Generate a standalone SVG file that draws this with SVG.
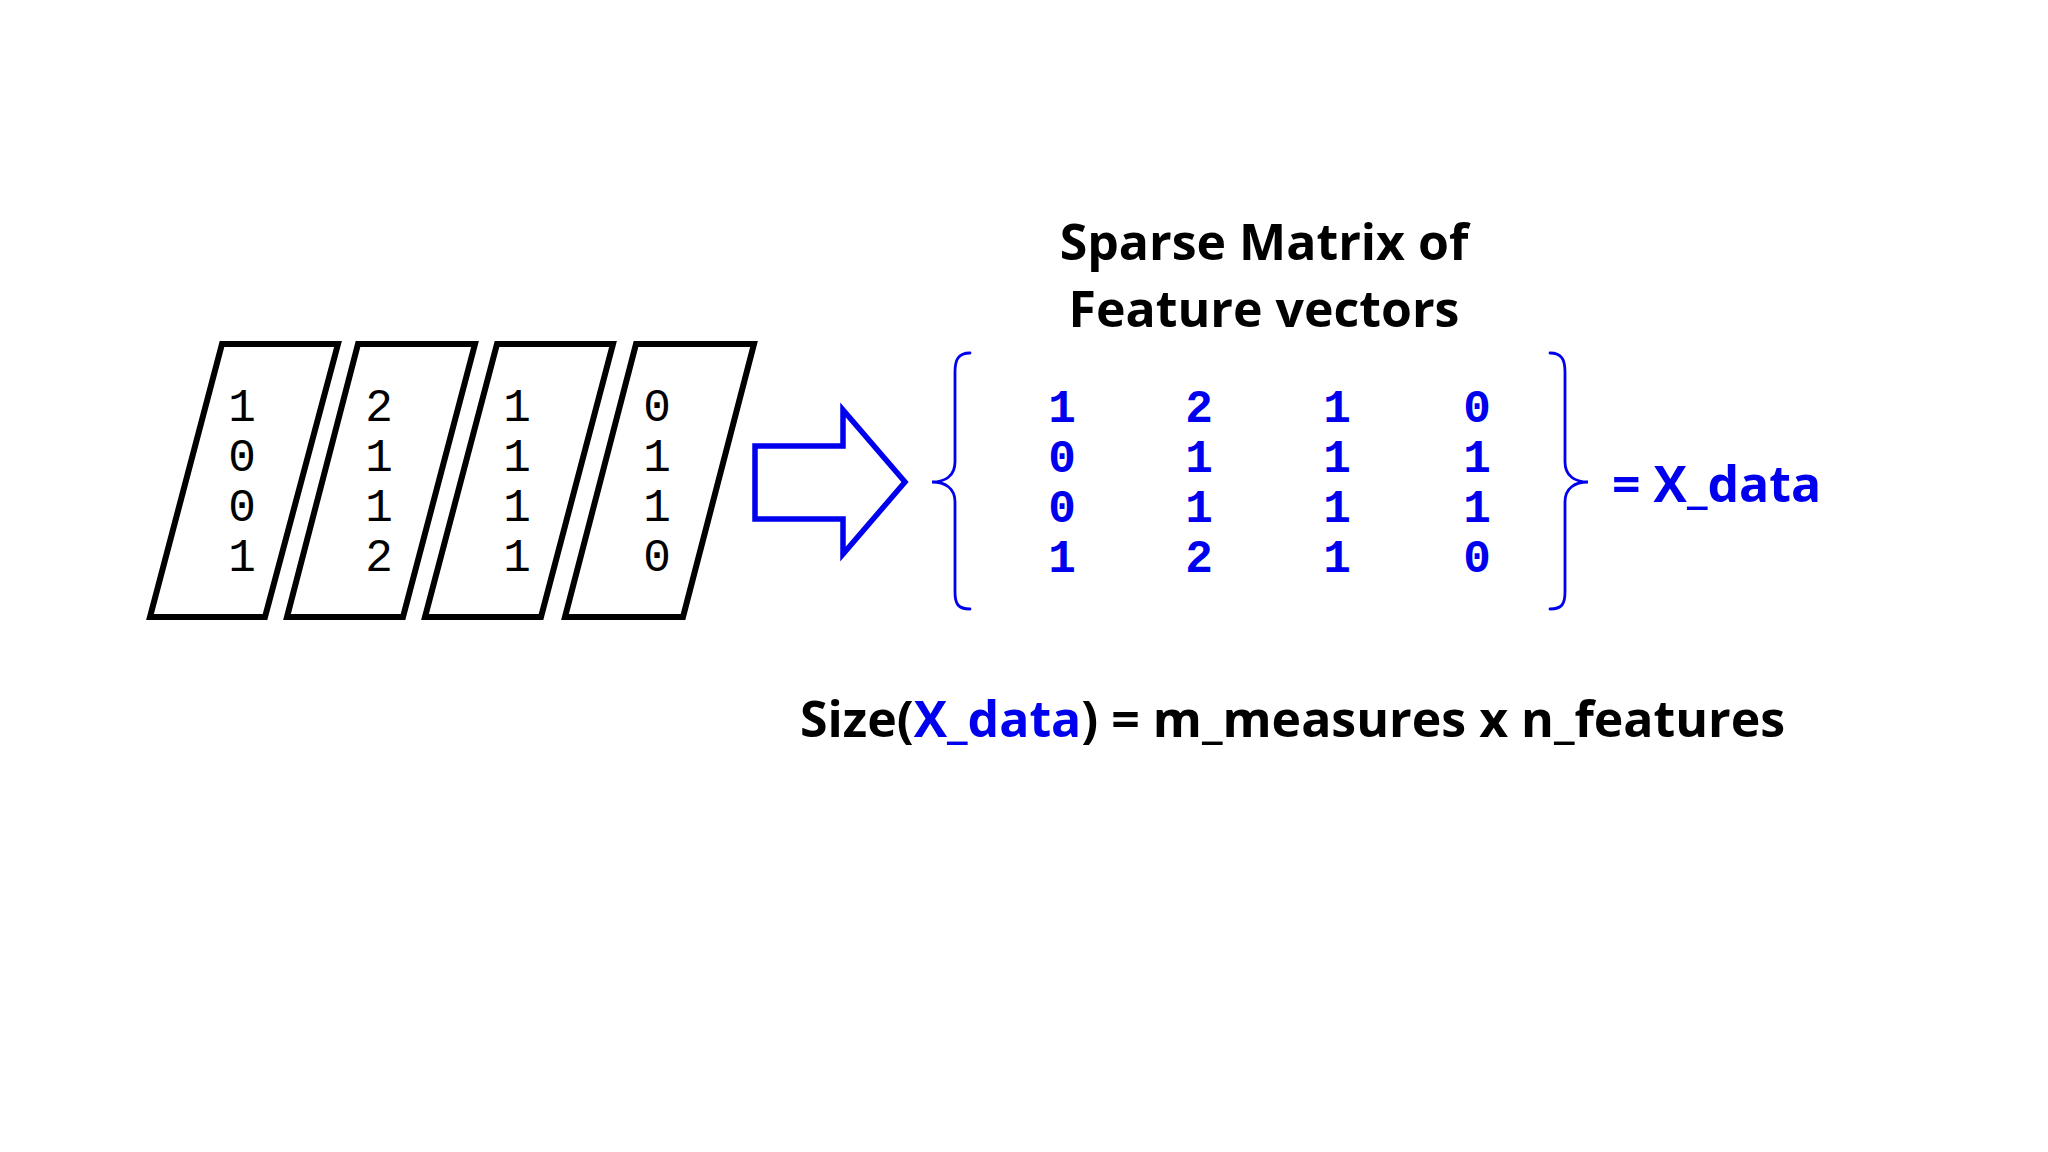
<svg xmlns="http://www.w3.org/2000/svg" width="2048" height="1152" viewBox="0 0 2048 1152">
<style>
.card{fill:#fff;stroke:#000;stroke-width:6;stroke-linejoin:miter}
.dig{font-family:"Liberation Mono",monospace;font-size:46px;fill:#000;text-anchor:middle}
.mdig{font-family:"Liberation Mono",monospace;font-weight:bold;font-size:46px;fill:#0000ee;text-anchor:middle}
.brace{fill:none;stroke:#0000ee;stroke-width:2.8;stroke-linecap:round}
.title{font-family:"Open Sans",sans-serif;font-weight:bold;font-size:50px;fill:#000;text-anchor:middle}
.blue{fill:#0000ee}
</style>
<rect width="2048" height="1152" fill="#fff"/>
<g id="vec1">
<polygon class="card" points="222,344 338,344 265,617 150,617"/>
<text class="dig"><tspan x="242" y="421">1</tspan><tspan x="242" y="471">0</tspan><tspan x="242" y="521">0</tspan><tspan x="242" y="571">1</tspan></text>
</g>
<g id="vec2">
<polygon class="card" points="358,344 475,344 403,617 287,617"/>
<text class="dig"><tspan x="379" y="421">2</tspan><tspan x="379" y="471">1</tspan><tspan x="379" y="521">1</tspan><tspan x="379" y="571">2</tspan></text>
</g>
<g id="vec3">
<polygon class="card" points="497,344 613,344 541,617 425,617"/>
<text class="dig"><tspan x="517" y="421">1</tspan><tspan x="517" y="471">1</tspan><tspan x="517" y="521">1</tspan><tspan x="517" y="571">1</tspan></text>
</g>
<g id="vec4">
<polygon class="card" points="636,344 754,344 683,617 565,617"/>
<text class="dig"><tspan x="657" y="421">0</tspan><tspan x="657" y="471">1</tspan><tspan x="657" y="521">1</tspan><tspan x="657" y="571">0</tspan></text>
</g>
<g id="connectors">
<path d="M755,446 H843 V410 L905,482 L843,554 V519 H755 Z" fill="#fff" stroke="#0000ee" stroke-width="5.5" stroke-linejoin="miter"/>
</g>
<g id="title">
<text class="title" x="1264" y="260">Sparse Matrix of</text>
<text class="title" x="1264" y="327">Feature vectors</text>
</g>
<g id="matrix">
<path class="brace" d="M970,353 C958,353 955,360 955,372 V462 C955,476 945,482 932,482 C945,482 955,488 955,502 V592 C955,604 958,609 970,609"/>
<path class="brace" d="M1550,353 C1562,353 1565,360 1565,372 V462 C1565,476 1575,482 1588,482 C1575,482 1565,488 1565,502 V592 C1565,604 1562,609 1550,609"/>
<text class="mdig"><tspan x="1062" y="422">1</tspan><tspan x="1062" y="472">0</tspan><tspan x="1062" y="522">0</tspan><tspan x="1062" y="572">1</tspan></text>
<text class="mdig"><tspan x="1199" y="422">2</tspan><tspan x="1199" y="472">1</tspan><tspan x="1199" y="522">1</tspan><tspan x="1199" y="572">2</tspan></text>
<text class="mdig"><tspan x="1337" y="422">1</tspan><tspan x="1337" y="472">1</tspan><tspan x="1337" y="522">1</tspan><tspan x="1337" y="572">1</tspan></text>
<text class="mdig"><tspan x="1477" y="422">0</tspan><tspan x="1477" y="472">1</tspan><tspan x="1477" y="522">1</tspan><tspan x="1477" y="572">0</tspan></text>
</g>
<g id="xdata">
<text class="title blue" x="1612" y="502" style="text-anchor:start">= X_data</text>
</g>
<g id="size">
<text class="title" x="800" y="737" style="text-anchor:start">Size(<tspan class="blue">X_data</tspan>) = m_measures x n_features</text>
</g>
</svg>
